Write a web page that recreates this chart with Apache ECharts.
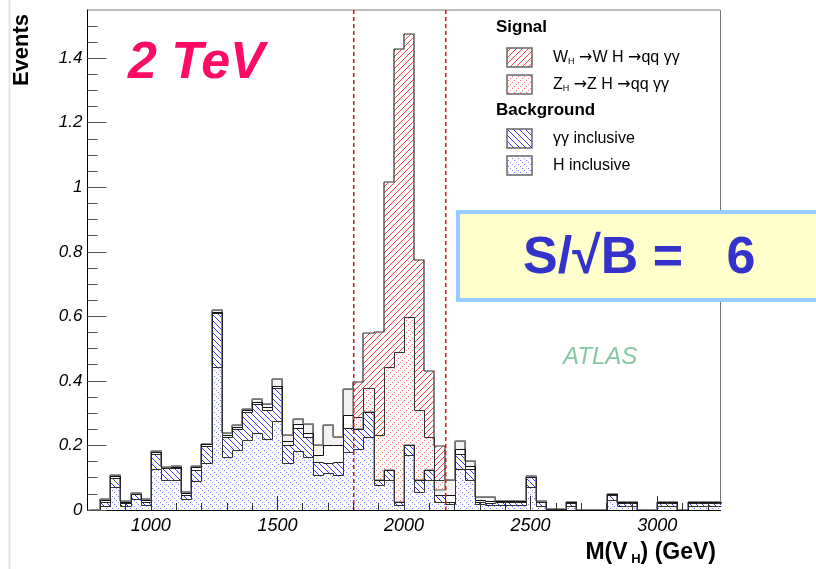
<!DOCTYPE html>
<html>
<head>
<meta charset="utf-8">
<script src="https://cdn.jsdelivr.net/npm/echarts@6/dist/echarts.min.js"></script>
<style>
  html, body { margin: 0; padding: 0; background: #fff; }
  #chart { width: 816px; height: 569px; }
</style>
</head>
<body>
<div id="chart"></div>
<script>
// ---- histogram binning: 40 GeV bins, lower edges ----
const binWidth = 40;
const binLow = [
  760, 800, 840, 880, 920, 960, 1000, 1040, 1080, 1120, 1160, 1200, 1240, 1280, 1320, 1360,
  1400, 1440, 1480, 1520, 1560, 1600, 1640, 1680, 1720, 1760, 1800, 1840, 1880, 1920, 1960, 2000,
  2040, 2080, 2120, 2160, 2200, 2240, 2280, 2320, 2360, 2400, 2440, 2480, 2520, 2560, 2600, 2640,
  2680, 2720, 2760, 2800, 2840, 2880, 2920, 2960, 3000, 3040, 3080, 3120, 3160, 3200, 3240
];

// ---- stacked contributions (events per bin), bottom to top ----
const hInclusive = [
  0, .013, .072, .013, .035, .017, .127, .092, .092, .035, .091, .145, .442, .165, .186, .217,
  .237, .219, .276, .145, .184, .165, .108, .116, .108, .180, .190, .227, .077, .093, .015, .170,
  .057, .093, .025, .020, .126, .093, .018, .015, .015, .015, .015, .072, .012, .002, .002, .012,
  0, 0, 0, .031, .012, .012, 0, 0, .012, .012, 0, .012, .012, .012, .012
];
const ggInclusive = [
  0, .013, .028, .010, .014, .009, .048, .037, .037, .012, .033, .054, .167, .062, .066, .086,
  .091, .091, .101, .056, .069, .062, .042, .030, .042, .075, .060, .077, .016, .031, .011, .031,
  .036, .031, .021, .006, .049, .033, .008, .008, .010, .010, .010, .029, .012, 0, 0, .010,
  0, 0, 0, .016, .010, .010, 0, 0, .010, .010, 0, .010, .010, .010, .010
];
const otherBkgA = [
  0, .004, .004, .003, .002, .004, .005, .002, .005, .005, .008, .004, .005, .005, .006, .007,
  .008, .010, .008, .012, .014, .012, .020, .055, .050, .039, 0, 0, 0, 0, 0, 0,
  0, 0, 0, .020, .013, .010, .005, .004, .002, .002, .002, .002, .002, 0, 0, .002,
  0, 0, 0, .002, .002, .002, 0, 0, .002, .002, 0, .002, .002, .002, .002
];
const otherBkgB = [
  0, .003, .003, .003, .001, .003, .004, .003, .003, .004, .004, .003, .005, .005, .006, .003,
  .008, .007, .020, .018, .015, .028, .030, .063, .027, .080, 0, 0, 0, 0, 0, 0,
  0, 0, .016, .047, .027, .017, .010, .014, .002, .002, .002, .002, .002, 0, 0, .001,
  0, 0, 0, .001, .001, .001, 0, 0, .001, .001, 0, .001, .001, .001, .001
];
const zhSignal = [
  0, 0, 0, 0, 0, 0, 0, 0, 0, 0, 0, 0, 0, 0, 0, 0,
  0, 0, 0, 0, 0, 0, 0, 0, 0, 0, .039, .073, .139, .320, .464, .398,
  .217, .103, .031, 0, 0, 0, 0, 0, 0, 0, 0, 0, 0, 0, 0, 0,
  0, 0, 0, 0, 0, 0, 0, 0, 0, 0, 0, 0, 0, 0, 0
];
const whSignal = [
  0, 0, 0, 0, 0, 0, 0, 0, 0, 0, 0, 0, 0, 0, 0, 0,
  0, 0, 0, 0, 0, 0, 0, 0, 0, 0, .108, .172, .320, .573, .939, .877,
  .466, .203, .105, 0, 0, 0, 0, 0, 0, 0, 0, 0, 0, 0, 0, 0,
  0, 0, 0, 0, 0, 0, 0, 0, 0, 0, 0, 0, 0, 0, 0
];

// ---- axes ----
const xRange = [750, 3250];
const yRange = [0, 1.549];
const xTickValues = [1000, 1500, 2000, 2500, 3000];
const xTickLabels = ['1000', '1500', '2000', '2500', '3000'];
const xMinorTicks = [800, 900, 1100, 1200, 1300, 1400, 1600, 1700, 1800, 1900, 2100, 2200, 2300,
  2400, 2600, 2700, 2800, 2900, 3100, 3200];
const yTickValues = [0, 0.2, 0.4, 0.6, 0.8, 1.0, 1.2, 1.4];
const yTickLabels = ['0', '0.2', '0.4', '0.6', '0.8', '1', '1.2', '1.4'];
const yMinorTicks = [0.05, 0.1, 0.15, 0.25, 0.3, 0.35, 0.45, 0.5, 0.55, 0.65, 0.7, 0.75, 0.85,
  0.9, 0.95, 1.05, 1.1, 1.15, 1.25, 1.3, 1.35, 1.45, 1.5];
const massWindow = [1800, 2160];

const FONT = '"Liberation Sans", Arial, Helvetica, sans-serif';
const ARROW_FONT = '"DejaVu Sans", sans-serif';

// ---- fill patterns (drawn pixel by pixel on small tiles) ----
function makePattern(w, h, color, test, bg) {
  const c = document.createElement('canvas');
  c.width = w; c.height = h;
  const g = c.getContext('2d');
  if (bg) { g.fillStyle = bg; g.fillRect(0, 0, w, h); }
  g.fillStyle = color;
  for (let y = 0; y < h; y++)
    for (let x = 0; x < w; x++)
      if (test(x, y)) g.fillRect(x, y, 1, 1);
  return { image: c, repeat: 'repeat' };
}
const patWH = makePattern(6, 6, '#ff4040', (x, y) => (x + y) % 6 === 0, '#ffffff');
const patZH = makePattern(6, 6, '#ff7070', (x, y) => (x + y) % 6 === 0 && x % 2 === 0, '#ffffff');
const patGG = makePattern(6, 6, '#3a3aff', (x, y) => (x - y + 6) % 6 === 0, '#ffffff');
const patH  = makePattern(6, 6, '#7c7cff', (x, y) => (x - y + 6) % 6 === 0 && x % 2 === 0, '#ffffff');

// ---- cumulative stack levels ----
const layers = [
  { name: 'H inclusive', values: hInclusive, fill: patH, line: '#333333', lw: 1 },
  { name: 'γγ inclusive', values: ggInclusive, fill: patGG, line: '#222222', lw: 1 },
  { name: 'other A', values: otherBkgA, fill: '#ffffff', line: '#111111', lw: 1 },
  { name: 'other B', values: otherBkgB, fill: '#f3f3f3', line: '#8a8a8a', lw: 1.5 },
  { name: 'Z_H signal', values: zhSignal, fill: patZH, line: '#333333', lw: 1 },
  { name: 'W_H signal', values: whSignal, fill: patWH, line: '#333333', lw: 1.2 }
];
let running = binLow.map(() => 0);
layers.forEach(l => {
  l.base = running.slice();
  l.top = running.map((v, i) => v + l.values[i]);
  running = l.top;
});

function clampX(px, cs) { return Math.max(cs.x, Math.min(cs.x + cs.width, px)); }

function fillSeries(layer) {
  return {
    type: 'custom',
    name: layer.name,
    silent: true,
    z: 2,
    encode: { x: [0, 1], y: [2, 3] },
    data: binLow.map((x, i) => [x, x + binWidth, layer.base[i], layer.top[i]]),
    renderItem(params, api) {
      const y0 = api.value(2), y1 = api.value(3);
      if (y1 <= y0) return null;
      const cs = params.coordSys;
      const a = api.coord([api.value(0), y0]);
      const b = api.coord([api.value(1), y1]);
      const xa = Math.round(clampX(a[0], cs)), xb = Math.round(clampX(b[0], cs));
      const ya = Math.round(a[1]), yb = Math.round(b[1]);
      if (xb <= xa) return null;
      return {
        type: 'rect',
        shape: { x: xa, y: yb, width: xb - xa, height: ya - yb },
        style: { fill: layer.fill }
      };
    }
  };
}

function outlineSeries(layer, z) {
  const top = layer.top;
  return {
    type: 'custom',
    name: layer.name + ' outline',
    silent: true,
    z: z,
    encode: { x: [0, 1], y: [2, 3] },
    data: binLow.map((x, i) => [x, x + binWidth, top[i], i + 1 < top.length ? top[i + 1] : 0]),
    renderItem(params, api) {
      const cs = params.coordSys;
      const a = api.coord([api.value(0), api.value(2)]);
      const b = api.coord([api.value(1), api.value(3)]);
      const off = layer.lw % 2 === 1 ? 0.5 : 0;
      const xa = Math.round(clampX(a[0], cs)) + off;
      const xbRaw = b[0];
      const xb = Math.round(clampX(xbRaw, cs)) + off;
      const y = Math.round(a[1]) + off, yn = Math.round(b[1]) + off;
      const pts = [[xa, y], [xb, y]];
      if (xbRaw < cs.x + cs.width) pts.push([xb, yn]);
      return {
        type: 'polyline',
        shape: { points: pts },
        style: { stroke: layer.line, lineWidth: layer.lw, fill: null }
      };
    }
  };
}

const series = [];
layers.forEach(l => series.push(fillSeries(l)));
// lower stack levels are stroked last, so their contours stay on top
layers.forEach((l, i) => series.push(outlineSeries(l, 8 - i)));
// dashed mass-window cut lines across the full y range
series.push({
  type: 'custom',
  name: 'mass window',
  silent: true,
  z: 12,
  encode: { x: 0 },
  data: massWindow.map(v => [v]),
  renderItem(params, api) {
    const lo = api.coord([api.value(0), yRange[0]]);
    const hi = api.coord([api.value(0), yRange[1]]);
    const x = Math.round(lo[0]);
    const yTop = Math.round(hi[1]), yBot = Math.round(lo[1]);
    const dashes = [];
    for (let y = yTop; y < yBot; y += 7) {
      dashes.push({
        type: 'rect',
        shape: { x: x, y: y, width: 1.5, height: Math.min(4, yBot - y) },
        style: { fill: 'rgb(225,20,20)' }
      });
    }
    return { type: 'group', children: dashes };
  }
});

const tickFmt = (values, labels) => v => {
  const i = values.findIndex(t => Math.abs(t - v) < 1e-6);
  return i >= 0 ? labels[i] : '';
};

const legendRows = [
  { kind: 'head', text: 'Signal', y: 27 },
  { kind: 'entry', fill: patWH, y: 48, text: '{m|W}{s|H}{m| }{a|\u2192}{m|W H }{a|\u2192}{m|qq \u03b3\u03b3}' },
  { kind: 'entry', fill: patZH, y: 75, text: '{m|Z}{s|H}{m| }{a|\u2192}{m|Z H }{a|\u2192}{m|qq \u03b3\u03b3}' },
  { kind: 'head', text: 'Background', y: 110 },
  { kind: 'entry', fill: patGG, y: 129, text: '{m|\u03b3\u03b3 inclusive}' },
  { kind: 'entry', fill: patH, y: 156, text: '{m|H inclusive}' }
];
const legendGraphics = [];
legendRows.forEach(r => {
  if (r.kind === 'head') {
    legendGraphics.push({
      type: 'text', x: 496, y: r.y, z: 30,
      style: { text: r.text, font: 'bold 17px ' + FONT, fill: '#000', verticalAlign: 'middle' }
    });
  } else {
    legendGraphics.push({
      type: 'rect', z: 30,
      shape: { x: 507, y: r.y, width: 25, height: 19 },
      style: { fill: r.fill, stroke: '#666', lineWidth: 1.5 }
    });
    legendGraphics.push({
      type: 'text', x: 553, y: r.y + 9.5, z: 30,
      style: {
        text: r.text, verticalAlign: 'middle',
        rich: {
          m: { font: '16px ' + FONT, fill: '#000', lineHeight: 18, verticalAlign: 'middle' },
          a: { font: '16px ' + ARROW_FONT, fill: '#000', lineHeight: 18, verticalAlign: 'middle' },
          s: { font: '9px ' + FONT, fill: '#000', lineHeight: 8, verticalAlign: 'bottom' }
        }
      }
    });
  }
});

const chart = echarts.init(document.getElementById('chart'), null, { renderer: 'canvas' });
chart.setOption({
  animation: false,
  backgroundColor: '#ffffff',
  textStyle: { fontFamily: FONT },
  grid: {
    left: 87.5, top: 10, right: 95.5, bottom: 59,
    show: true, borderColor: '#777777', borderWidth: 1, backgroundColor: 'transparent'
  },
  xAxis: [
    {
      type: 'value', min: xRange[0], max: xRange[1], position: 'bottom', z: 20,
      axisLine: { show: true, onZero: false, lineStyle: { color: '#000', width: 1 } },
      axisTick: { show: true, inside: true, length: 14, customValues: xTickValues,
        lineStyle: { color: '#333', width: 1 } },
      axisLabel: { show: true, customValues: xTickValues, formatter: tickFmt(xTickValues, xTickLabels),
        fontStyle: 'italic', fontSize: 18, color: '#000', margin: 7, fontFamily: FONT },
      splitLine: { show: false }
    },
    {
      type: 'value', min: xRange[0], max: xRange[1], position: 'bottom', z: 20,
      axisLine: { show: false },
      axisTick: { show: true, inside: true, length: 7, customValues: xMinorTicks,
        lineStyle: { color: '#333', width: 1 } },
      axisLabel: { show: false },
      splitLine: { show: false }
    }
  ],
  yAxis: [
    {
      type: 'value', min: yRange[0], max: yRange[1], position: 'left', z: 20,
      axisLine: { show: true, onZero: false, lineStyle: { color: '#000', width: 1 } },
      axisTick: { show: true, inside: true, length: 19, customValues: yTickValues,
        lineStyle: { color: '#555', width: 1 } },
      axisLabel: { show: true, customValues: yTickValues, formatter: tickFmt(yTickValues, yTickLabels),
        fontStyle: 'italic', fontSize: 17, color: '#000', margin: 5, fontFamily: FONT },
      splitLine: { show: false }
    },
    {
      type: 'value', min: yRange[0], max: yRange[1], position: 'left', offset: 0, z: 20,
      axisLine: { show: false },
      axisTick: { show: true, inside: true, length: 10, customValues: yMinorTicks,
        lineStyle: { color: '#555', width: 1 } },
      axisLabel: { show: false },
      splitLine: { show: false }
    }
  ],
  series: series,
  graphic: [
    { type: 'line', z: 1, shape: { x1: 9.5, y1: 0, x2: 9.5, y2: 569 },
      style: { stroke: '#e4e4e4', lineWidth: 2 } },
    { type: 'text', x: 22, y: 50, rotation: Math.PI / 2, z: 30,
      style: { text: 'Events', font: 'bold 22px ' + FONT, fill: '#000', align: 'center', verticalAlign: 'middle' } },
    { type: 'text', x: 716, y: 553, z: 30,
      style: {
        text: '{m|M(V}{s| H}{m|) (GeV)}', align: 'right', verticalAlign: 'middle',
        rich: {
          m: { font: 'bold 23px ' + FONT, fill: '#000', lineHeight: 26, verticalAlign: 'middle' },
          s: { font: 'bold 13px ' + FONT, fill: '#000', lineHeight: 10, verticalAlign: 'bottom' }
        }
      } },
    { type: 'text', x: 128, y: 64, z: 30,
      style: { text: '2 TeV', font: 'italic bold 52px ' + FONT, fill: '#ff0a64', verticalAlign: 'middle' } },
    { type: 'rect', z: 40, shape: { x: 458, y: 212, width: 370, height: 88 },
      style: { fill: '#ffffcc', stroke: '#99ccff', lineWidth: 4 } },
    { type: 'text', x: 523, y: 259, z: 41,
      style: { text: 'S/\u221aB =   6', font: 'bold 52px ' + FONT, fill: '#3333cc', verticalAlign: 'middle' } },
    { type: 'text', x: 563, y: 357, z: 30,
      style: { text: 'ATLAS', font: 'italic 24px ' + FONT, fill: '#84c8a4', verticalAlign: 'middle' } }
  ].concat(legendGraphics)
});
</script>
</body>
</html>
